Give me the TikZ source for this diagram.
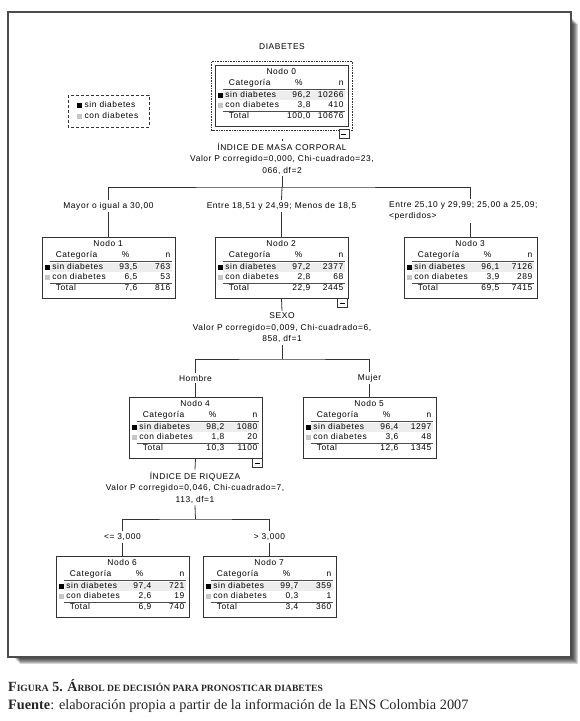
\documentclass[tikz,border=0pt]{standalone}
\usepackage{fontspec}
\setmainfont{Liberation Serif}
\newfontfamily\spss{Liberation Sans}[LetterSpace=7.0]
\usetikzlibrary{calc}

\newcommand{\capsm}[1]{{\fontsize{9.6}{12}\selectfont #1}}

% table inside one tree node: name, number, then %, n for each row
\newcommand{\nodotabla}[8]{%
  \begin{scope}[shift={(#1.north west)}]
    \node[cell] at (66.5,8) {Nodo #2};
    \node[cell,anchor=west] at (14,19) {Categoría};
    \node[cell] at (84,19) {\%};
    \node[cell,anchor=east] at (129,19) {n};
    \draw[regla] (8,24.5) -- (130,24.5);
    \fill[fila] (8,26.5) rectangle (130,35.5);
    \fill[black] (3,28.5) rectangle (8,33.5);
    \node[cell,anchor=west] at (10.5,31) {sin diabetes};
    \node[cell,anchor=east] at (96,31) {#3};
    \node[cell,anchor=east] at (129,31) {#4};
    \fill[gray!45] (3,38.5) rectangle (8,43.5);
    \node[cell,anchor=west] at (10.5,41) {con diabetes};
    \node[cell,anchor=east] at (96,41) {#5};
    \node[cell,anchor=east] at (129,41) {#6};
    \draw[regla] (8,46.5) -- (130,46.5);
    \node[cell,anchor=west] at (14,52) {Total};
    \node[cell,anchor=east] at (96,52) {#7};
    \node[cell,anchor=east] at (129,52) {#8};
  \end{scope}}

\begin{document}
\begin{tikzpicture}[x=1pt,y=-1pt]

	\tikzset{
		arbol/.style={font=\spss\fontsize{8.4}{11.5}\selectfont, text=black},
		cell/.style={inner sep=0pt, text height=6pt, text depth=1.7pt},
		caja/.style={draw=black!80, line width=0.8pt, fill=white, minimum width=133pt, minimum height=61pt, inner sep=0pt},
		regla/.style={line width=1.2pt, black!70},
		fila/.style={fill=gray!14},
		seleccion/.style={draw=black!80, line width=0.9pt, dash pattern=on 1.6pt off 1pt},
		menos/.style={draw=black!80, line width=0.7pt, fill=white, minimum width=10pt, minimum height=9pt, inner sep=0pt, anchor=north east},
		rama/.style={line width=0.8pt, black!80},
		etiqueta/.style={inner sep=2pt, align=center},
		marco/.style={draw=black!70, line width=1.5pt, fill=white}
	}

	\useasboundingbox (0,0) rectangle (580,721);

	% frame with shadow
	\foreach \k in {0,...,6}
		\fill[black, opacity=0.17] (14+\k,18+\k) rectangle (572+\k,658+\k);
	\draw[marco] (8,12) rectangle (571,657);

	\begin{scope}[arbol]

	\node[cell] (titulo) at (282,47) {DIABETES};

	% legend
	\draw[rama, dash pattern=on 3pt off 2pt] (68,95) rectangle (149,127);
	\fill[black] (77,103) rectangle (82,108);
	\node[cell,anchor=west] (ley1) at (84.5,105.5) {sin diabetes};
	\fill[gray!45] (77,114) rectangle (82,119);
	\node[cell,anchor=west] (ley2) at (84.5,116.5) {con diabetes};

	% tree nodes
	\node[caja, line width=1.5pt] (n0) at (282,96) {};
	\draw[seleccion] ($(n0.north west)+(-3,-3)$) rectangle ($(n0.south east)+(3,3)$);
	\node[caja] (n1) at (108.5,267.5) {};
	\node[caja] (n2) at (281.5,267.5) {};
	\node[caja] (n3) at (470.5,267.5) {};
	\node[caja] (n4) at (195.5,427.5) {};
	\node[caja] (n5) at (369.5,427.5) {};
	\node[caja] (n6) at (122.5,586.5) {};
	\node[caja] (n7) at (269.5,586.5) {};

	\nodotabla{n0}{0}{96,2}{10266}{3,8}{410}{100,0}{10676}
	\nodotabla{n1}{1}{93,5}{763}{6,5}{53}{7,6}{816}
	\nodotabla{n2}{2}{97,2}{2377}{2,8}{68}{22,9}{2445}
	\nodotabla{n3}{3}{96,1}{7126}{3,9}{289}{69,5}{7415}
	\nodotabla{n4}{4}{98,2}{1080}{1,8}{20}{10,3}{1100}
	\nodotabla{n5}{5}{96,4}{1297}{3,6}{48}{12,6}{1345}
	\nodotabla{n6}{6}{97,4}{721}{2,6}{19}{6,9}{740}
	\nodotabla{n7}{7}{99,7}{359}{0,3}{1}{3,4}{360}

	\node[menos] (c0) at ($(n0.south east)+(0,2)$) {\rule{5pt}{0.8pt}};
	\node[menos] (c2) at ($(n2.south east)+(-1,0)$) {\rule{5pt}{0.8pt}};
	\node[menos] (c4) at ($(n4.south east)+(0,0)$) {\rule{5pt}{0.8pt}};

	% split texts
	\node[etiqueta] (s0) at (282,158.5) {ÍNDICE DE MASA CORPORAL\\Valor P corregido=0,000, Chi-cuadrado=23,\\066, df=2};
	\node[etiqueta] (s2) at (282,328) {SEXO\\Valor P corregido=0,009, Chi-cuadrado=6,\\858, df=1};
	\node[etiqueta] (s4) at (195,487.5) {ÍNDICE DE RIQUEZA\\Valor P corregido=0,046, Chi-cuadrado=7,\\113, df=1};

	% branch labels
	\node[etiqueta] (l1) at (108.5,206) {Mayor o igual a 30,00};
	\node[etiqueta] (l2) at (281.5,206) {Entre 18,51 y 24,99; Menos de 18,5};
	\node[etiqueta, align=left, anchor=north west] (l3) at (387,199) {Entre 25,10 y 29,99; 25,00 a 25,09;\\<perdidos>};
	\node[etiqueta] (l4) at (195.5,378) {Hombre};
	\node[etiqueta] (l5) at (369.5,378) {Mujer};
	\node[etiqueta] (l6) at (122.5,537) {<= 3,000};
	\node[etiqueta] (l7) at (269.5,537) {> 3,000};

	\coordinate (b0) at (282,187);
	\coordinate (b2) at (282,359);
	\coordinate (b4) at (195.5,519);

	% connectors
	\draw[rama] (n0.south |- c0.south) -- (s0.north);
	\draw[rama] (s0.south) -- (b0);
	\draw[rama] (l1.north) |- (b0) -| (l3.north -| n3.north);
	\draw[rama] (b0) -- (l2.north);
	\draw[rama] (l1.south) -- (n1.north);
	\draw[rama] (l2.south) -- (n2.north);
	\draw[rama] (l3.south -| n3.north) -- (n3.north);

	\draw[rama] (n2.south) -- (s2.north);
	\draw[rama] (s2.south) -- (b2);
	\draw[rama] (l4.north) |- (b2) -| (l5.north);
	\draw[rama] (l4.south) -- (n4.north);
	\draw[rama] (l5.south) -- (n5.north);

	\draw[rama] (n4.south) -- (s4.north);
	\draw[rama] (s4.south) -- (b4);
	\draw[rama] (l6.north) |- (b4) -| (l7.north);
	\draw[rama] (l6.south) -- (n6.north);
	\draw[rama] (l7.south) -- (n7.north);

	\end{scope}

	% caption
	\node[anchor=west, inner sep=0pt, font=\fontsize{14}{16}\selectfont, text=black!85] (pie1) at (8,686)
		{\textbf{F\capsm{IGURA} 5. Á\capsm{RBOL DE DECISIÓN PARA PRONOSTICAR DIABETES}}};
	\node[anchor=west, inner sep=0pt, font=\fontsize{14.3}{16}\selectfont, text=black!85] (pie2) at (8,706)
		{\textbf{Fuente}: elaboración propia a partir de la información de la ENS Colombia 2007};

\end{tikzpicture}
\end{document}
